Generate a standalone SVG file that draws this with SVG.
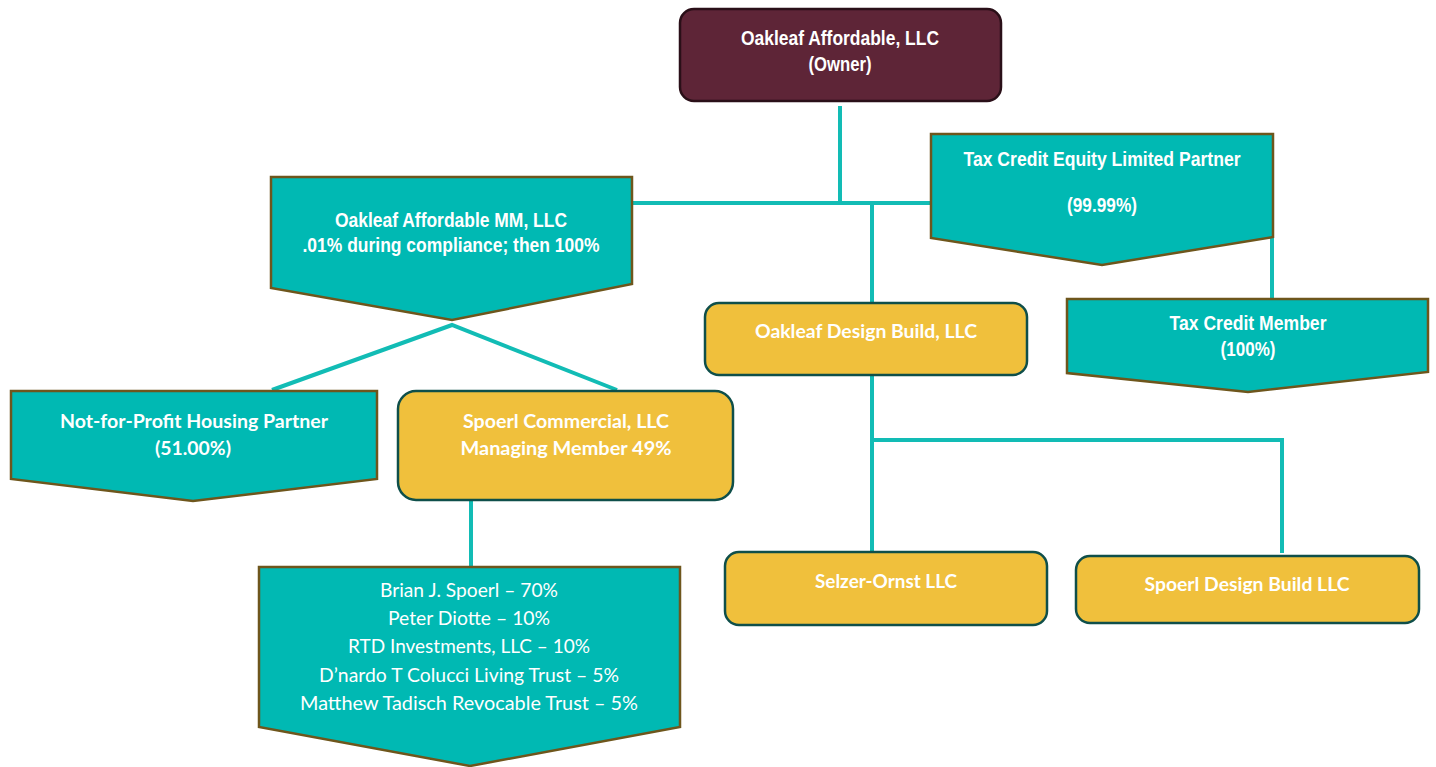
<svg xmlns="http://www.w3.org/2000/svg" width="1436" height="767" viewBox="0 0 1436 767">
<style>
.conn{fill:none;stroke:#12bcb5;stroke-width:4}
.teal{fill:#00b9b3;stroke:#6e561c;stroke-width:2.5;stroke-linejoin:miter}
.gold{fill:#f0c03c;stroke:#0f4f4a;stroke-width:2.5}
.owner{fill:#5e2537;stroke:#2a0f18;stroke-width:2.5}
.an{font-family:"Liberation Sans",Arial,sans-serif;font-weight:bold;font-size:20px;fill:#fff;text-anchor:middle}
.cb{font-family:Lato,"Open Sans",sans-serif;font-weight:bold;font-size:19px;fill:#fff;text-anchor:middle}
.cr{font-family:Lato,"Open Sans",sans-serif;font-size:19px;fill:#fff;text-anchor:middle}
</style>
<rect width="1436" height="767" fill="#fff"/>
<g id="connectors">
<path class="conn" d="M840,106 V203"/>
<path class="conn" d="M632,203 H932"/>
<path class="conn" d="M872,203 V302"/>
<path class="conn" d="M1272,238 V298"/>
<path class="conn" d="M272,390 L452,325 L617,390"/>
<path class="conn" d="M471,501 V567"/>
<path class="conn" d="M872,375 V553"/>
<path class="conn" d="M872,440 H1282 V553"/>
</g>
<g id="owner">
<rect class="owner" x="680" y="9" width="321" height="92" rx="14"/>
<text class="an" x="840" y="45" textLength="198" lengthAdjust="spacingAndGlyphs">Oakleaf Affordable, LLC</text>
<text class="an" x="840" y="71" textLength="63" lengthAdjust="spacingAndGlyphs">(Owner)</text>
</g>
<g id="mm">
<path class="teal" d="M271,177 L632,177 L632,284 L452,320 L271,288 Z"/>
<text class="an" x="451" y="227" textLength="232" lengthAdjust="spacingAndGlyphs">Oakleaf Affordable MM, LLC</text>
<text class="an" x="451" y="252" textLength="297" lengthAdjust="spacingAndGlyphs">.01% during compliance; then 100%</text>
</g>
<g id="taxequity">
<path class="teal" d="M931,134 L1273,134 L1273,237 L1102,265 L931,238 Z"/>
<text class="an" x="1102" y="166" textLength="277" lengthAdjust="spacingAndGlyphs">Tax Credit Equity Limited Partner</text>
<text class="an" x="1102" y="212" textLength="70" lengthAdjust="spacingAndGlyphs">(99.99%)</text>
</g>
<g id="taxmember">
<path class="teal" d="M1067,299 L1428,299 L1428,372 L1248,392 L1067,373 Z"/>
<text class="an" x="1248" y="330" textLength="157" lengthAdjust="spacingAndGlyphs">Tax Credit Member</text>
<text class="an" x="1248" y="356" textLength="55" lengthAdjust="spacingAndGlyphs">(100%)</text>
</g>
<g id="nfp">
<path class="teal" d="M11,391 L377,391 L377,479 L193,501 L11,479 Z"/>
<text class="cb" x="194" y="428" textLength="268" lengthAdjust="spacingAndGlyphs">Not-for-Profit Housing Partner</text>
<text class="cb" x="193" y="455" textLength="76" lengthAdjust="spacingAndGlyphs">(51.00%)</text>
</g>
<g id="spoerlcommercial">
<rect class="gold" x="398" y="391" width="335" height="109" rx="18"/>
<text class="cb" x="566" y="428" textLength="206" lengthAdjust="spacingAndGlyphs">Spoerl Commercial, LLC</text>
<text class="cb" x="566" y="455" textLength="211" lengthAdjust="spacingAndGlyphs">Managing Member 49%</text>
</g>
<g id="members">
<path class="teal" d="M259,567 L680,567 L680,727 L470,766 L259,727 Z"/>
<text class="cr" x="469" y="597" textLength="178" lengthAdjust="spacingAndGlyphs">Brian J. Spoerl – 70%</text>
<text class="cr" x="469" y="625" textLength="162" lengthAdjust="spacingAndGlyphs">Peter Diotte – 10%</text>
<text class="cr" x="469" y="653" textLength="242" lengthAdjust="spacingAndGlyphs">RTD Investments, LLC – 10%</text>
<text class="cr" x="469" y="682" textLength="300" lengthAdjust="spacingAndGlyphs">D’nardo T Colucci Living Trust – 5%</text>
<text class="cr" x="469" y="710" textLength="338" lengthAdjust="spacingAndGlyphs">Matthew Tadisch Revocable Trust – 5%</text>
</g>
<g id="designbuild">
<rect class="gold" x="705" y="303" width="322" height="72" rx="14"/>
<text class="cb" x="866" y="338" textLength="222" lengthAdjust="spacingAndGlyphs">Oakleaf Design Build, LLC</text>
</g>
<g id="selzer">
<rect class="gold" x="725" y="552" width="322" height="73" rx="14"/>
<text class="cb" x="886" y="588" textLength="142" lengthAdjust="spacingAndGlyphs">Selzer-Ornst LLC</text>
</g>
<g id="spoerldesign">
<rect class="gold" x="1076" y="556" width="343" height="67" rx="14"/>
<text class="cb" x="1247" y="591" textLength="205" lengthAdjust="spacingAndGlyphs">Spoerl Design Build LLC</text>
</g>
</svg>
